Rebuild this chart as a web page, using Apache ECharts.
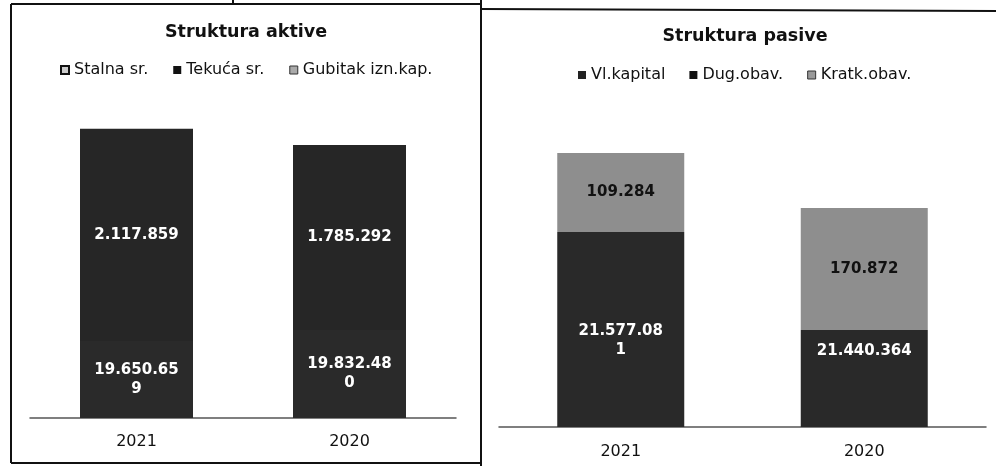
<!DOCTYPE html>
<html>
<head>
<meta charset="utf-8">
<script src="https://cdn.jsdelivr.net/npm/echarts@6/dist/echarts.min.js"></script>
<style>
  html, body { margin: 0; padding: 0; background: #fff; }
  #main { width: 996px; height: 466px; }
</style>
</head>
<body>
<div id="main"></div>
<script>
// kategorije (godine)
var godine = ['2021', '2020'];

// iznosi ispisani na stupcima
var aktivaStalnaIznos = [19650659, 19832480];
var aktivaTekucaIznos = [2117859, 1785292];
var pasivaKapitalIznos = [21577081, 21440364];
var pasivaKratkIznos = [109284, 170872];

// visine segmenata kako su nacrtane na skenu (os 0-100), ne odgovaraju iznosima
var aktivaStalna = [25.7, 29.3];
var aktivaTekuca = [70.7, 61.7];
var aktivaGubitak = [0, 0];
var pasivaKapital = [65, 32.3];
var pasivaDug = [0, 0];
var pasivaKratk = [26.3, 40.7];

var FONT = 'DejaVu Sans';

function fmt(n) {
    return String(n).replace(/\B(?=(\d{3})+(?!\d))/g, '.');
}

var chart = echarts.init(document.getElementById('main'), null, { renderer: 'canvas' });

var labelBase = {
    show: true,
    position: 'inside',
    color: '#fff',
    fontFamily: FONT,
    fontWeight: 'bold',
    fontSize: 15,
    lineHeight: 19,
    width: 88,
    overflow: 'breakAll'
};

function axisX(idx) {
    return {
        type: 'category',
        gridIndex: idx,
        data: godine,
        axisTick: { show: false },
        axisLine: { lineStyle: { color: '#555', width: 1.5 } },
        axisLabel: {
            color: '#111',
            fontFamily: FONT,
            fontSize: 16,
            margin: idx == 0 ? 16 : 17
        }
    };
}

function axisY(idx) {
    return {
        type: 'value',
        gridIndex: idx,
        min: 0,
        max: 100,
        show: false,
        splitLine: { show: false }
    };
}

var option = {
    animation: false,
    textStyle: { fontFamily: FONT },
    title: [
        {
            text: 'Struktura aktive',
            left: 246, top: 23, padding: 0, textAlign: 'center',
            textStyle: { fontFamily: FONT, fontSize: 17.5, fontWeight: 'bold', color: '#111' }
        },
        {
            text: 'Struktura pasive',
            left: 745, top: 27, padding: 0, textAlign: 'center',
            textStyle: { fontFamily: FONT, fontSize: 17.5, fontWeight: 'bold', color: '#111' }
        }
    ],
    legend: [
        {
            left: 60, top: 62, padding: 0,
            itemWidth: 8, itemHeight: 8, itemGap: 25,
            icon: 'rect',
            textStyle: { fontFamily: FONT, fontSize: 16, color: '#111' },
            data: [
                { name: 'Stalna sr.', itemStyle: { color: '#ccc', borderColor: '#111', borderWidth: 2 } },
                { name: 'Tekuća sr.', itemStyle: { color: '#111' } },
                { name: 'Gubitak izn.kap.', itemStyle: { color: '#aaa', borderColor: '#333', borderWidth: 1 } }
            ]
        },
        {
            left: 578, top: 67, padding: 0,
            itemWidth: 8, itemHeight: 8, itemGap: 24,
            icon: 'rect',
            textStyle: { fontFamily: FONT, fontSize: 16, color: '#111' },
            data: [
                { name: 'Vl.kapital', itemStyle: { color: '#222' } },
                { name: 'Dug.obav.', itemStyle: { color: '#111' } },
                { name: 'Kratk.obav.', itemStyle: { color: '#999', borderColor: '#333', borderWidth: 1 } }
            ]
        }
    ],
    grid: [
        { left: 30, width: 426, top: 118, height: 300 },
        { left: 499, width: 487, top: 127, height: 300 }
    ],
    xAxis: [axisX(0), axisX(1)],
    yAxis: [axisY(0), axisY(1)],
    series: [
        {
            name: 'Stalna sr.', type: 'bar', stack: 'aktiva',
            xAxisIndex: 0, yAxisIndex: 0, barWidth: 113,
            itemStyle: { color: '#2a2a2a' },
            label: Object.assign({}, labelBase, {
                formatter: function (p) { return fmt(aktivaStalnaIznos[p.dataIndex]); }
            }),
            data: aktivaStalna
        },
        {
            name: 'Tekuća sr.', type: 'bar', stack: 'aktiva',
            xAxisIndex: 0, yAxisIndex: 0, barWidth: 113,
            itemStyle: { color: '#262626' },
            label: Object.assign({}, labelBase, {
                formatter: function (p) { return fmt(aktivaTekucaIznos[p.dataIndex]); }
            }),
            data: aktivaTekuca
        },
        {
            name: 'Gubitak izn.kap.', type: 'bar', stack: 'aktiva',
            xAxisIndex: 0, yAxisIndex: 0, barWidth: 113,
            itemStyle: { color: '#999' },
            data: aktivaGubitak
        },
        {
            name: 'Vl.kapital', type: 'bar', stack: 'pasiva',
            xAxisIndex: 1, yAxisIndex: 1, barWidth: 127,
            itemStyle: { color: '#292929' },
            label: Object.assign({}, labelBase, {
                formatter: function (p) { return fmt(pasivaKapitalIznos[p.dataIndex]); }
            }),
            data: pasivaKapital.map(function (v, i) {
                if (i == 0) return { value: v, label: { offset: [0, 11] } };
                return { value: v, label: { position: 'insideTop', distance: 12, width: 120 } };
            })
        },
        {
            name: 'Dug.obav.', type: 'bar', stack: 'pasiva',
            xAxisIndex: 1, yAxisIndex: 1, barWidth: 127,
            itemStyle: { color: '#1a1a1a' },
            data: pasivaDug
        },
        {
            name: 'Kratk.obav.', type: 'bar', stack: 'pasiva',
            xAxisIndex: 1, yAxisIndex: 1, barWidth: 127,
            itemStyle: { color: '#8e8e8e' },
            label: Object.assign({}, labelBase, {
                color: '#111',
                formatter: function (p) { return fmt(pasivaKratkIznos[p.dataIndex]); }
            }),
            data: pasivaKratk
        }
    ],
    graphic: [
        { type: 'line', shape: { x1: 11, y1: 4, x2: 481, y2: 4 }, style: { stroke: '#111', lineWidth: 2 } },
        { type: 'line', shape: { x1: 233, y1: 0, x2: 233, y2: 4 }, style: { stroke: '#111', lineWidth: 2 } },
        { type: 'line', shape: { x1: 11, y1: 4, x2: 11, y2: 463 }, style: { stroke: '#111', lineWidth: 2 } },
        { type: 'line', shape: { x1: 11, y1: 463, x2: 481, y2: 463 }, style: { stroke: '#111', lineWidth: 2 } },
        { type: 'line', shape: { x1: 481, y1: 0, x2: 481, y2: 466 }, style: { stroke: '#111', lineWidth: 2 } },
        { type: 'line', shape: { x1: 481, y1: 9, x2: 996, y2: 11 }, style: { stroke: '#111', lineWidth: 2 } }
    ]
};

chart.setOption(option);
</script>
</body>
</html>
